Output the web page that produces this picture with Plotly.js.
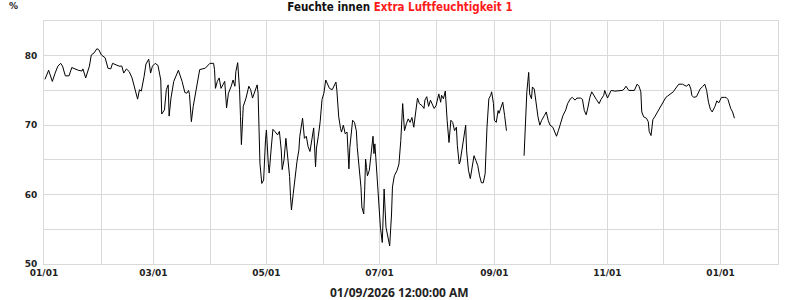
<!DOCTYPE html>
<html>
<head>
<meta charset="utf-8">
<script src="https://cdn.plot.ly/plotly-3.0.1.min.js"></script>
<style>
  html, body { margin: 0; padding: 0; background: #fff; }
  #chart { width: 800px; height: 300px; }
</style>
</head>
<body>
<div id="chart"></div>
<script>
// Days since 2025-01-01 (00:00) and humidity in %
const dayOffsets = [
  0.5, 2.5, 3, 4.5, 6, 7.5, 9, 10, 11.5, 13.5, 15, 16.5, 18.5, 20.5, 21, 22.5, 24.5, 25.5, 27, 28.5,
  29.5, 31, 33, 34.5, 36, 37, 39, 40.5, 42, 43, 44.5, 46, 47.5, 49, 50.5, 51.5, 52.5, 54, 55, 56.5,
  57.5, 58.5, 60, 61.5, 63, 63.5, 65, 66, 67, 67.5, 68.5, 70, 71.5, 72.5, 74.5, 76, 77, 78, 78.5, 79.5,
  80.5, 82, 83, 84, 87, 88.5, 89.5, 91.5, 92, 92.5, 93.5, 94.5, 95.5, 96.5, 97.5, 98.5, 99.5, 101, 102, 103,
  103.5, 104.5, 105.5, 106, 106.5, 107.5, 109, 110.5, 111.5, 112.5, 114, 115, 115.5, 116.5, 117.5, 118.5, 119.5, 120,
  121, 121.5, 122.5, 123.5, 124.5, 126, 127, 128, 128.5, 129.5, 130.5, 131.5, 132.5, 133, 133.5, 134.5, 135.5, 136.5,
  137.5, 138, 139.5, 140.5, 141.5, 142.5, 143.5, 144.5, 145.5, 146.5, 147, 148, 149, 150, 151, 152, 154, 155.5,
  157.5, 158, 159, 160, 160.5, 161.5, 162.5, 163.5, 164, 164.5, 165, 166.5, 167.5, 168.5, 169, 170, 171, 171.5,
  172.5, 173, 173.5, 174, 174.5, 175.5, 176.5, 177.5, 178, 178.5, 179, 180, 180.5, 181.5, 182.5, 183, 183.5, 184.5,
  185.5, 186.5, 187.5, 188, 189, 190.5, 191.5, 192.5, 193.5, 194.5, 195.5, 196.5, 197.5, 198.5, 199.5, 200.5, 201.5, 202.5,
  204, 205, 205.5, 206.5, 207.5, 208.5, 209.5, 210.5, 211.5, 212.5, 213, 214, 214.5, 215.5, 216.5, 217.5, 218.5, 219.5,
  220.5, 221.5, 222.5, 223, 224, 224.5, 225.5, 226.5, 227.5, 228, 229, 230, 231, 232, 233, 234, 235, 236,
  237, 238, 239, 240, 241, 241.5, 242.5, 243, 244, 245, 245.5, 246.5, 247.5, 248.5, 249.5, 254, 259, 259.5,
  260.5, 261.5, 262, 263, 263.5, 264.5, 265.5, 266.5, 267.5, 268.5, 270, 271, 272, 273, 274.5, 275.5, 276.5, 277.5,
  278.5, 280, 281.5, 282.5, 284, 285, 286.5, 287.5, 289.5, 290.5, 291.5, 292.5, 293.5, 294.5, 295.5, 297, 298, 299.5,
  300.5, 302, 302.5, 304, 305, 306, 308, 310, 312, 313, 314, 315.5, 317.5, 318.5, 320, 321, 322, 322.5,
  323.5, 325, 326, 326.5, 327.5, 328.5, 329.5, 331, 332, 333.5, 335.5, 336.5, 338, 339.5, 340.5, 342.5, 344.5, 345.5,
  346.5, 348, 349, 349.5, 350.5, 352, 353, 354, 355.5, 356.5, 357.5, 358.5, 359.5, 360.5, 362, 363, 364, 365.5,
  367, 368, 369, 370.5, 371.5, 372.5
];
const humidity = [
  76.6, 77.9, 77.5, 76.3, 77.5, 78.5, 78.9, 78.5, 77.1, 77.1, 78.3, 78.1, 77.9, 77.8, 78.1, 76.8, 78.5, 80.1, 80.4, 81.0,
  80.9, 80.1, 79.7, 78.2, 78.1, 78.9, 78.7, 78.5, 78.5, 77.5, 78.1, 77.7, 76.8, 75.3, 73.75, 75.1, 74.9, 77.0, 78.8, 79.5,
  77.5, 78.5, 78.9, 78.6, 76.5, 71.6, 72.2, 75.1, 75.8, 71.3, 73.9, 76.3, 77.3, 77.9, 76.3, 74.7, 74.6, 75.0, 74.4, 70.5,
  72.7, 75.1, 77.0, 78.0, 78.2, 78.6, 78.9, 78.9, 78.0, 75.3, 76.3, 76.8, 75.3, 75.8, 76.3, 72.5, 74.6, 75.6, 76.5, 75.6,
  77.7, 79.0, 75.1, 71.25, 67.2, 72.7, 73.9, 75.6, 75.1, 73.9, 75.1, 75.8, 74.6, 64.5, 61.6, 62.1, 67.9, 69.3,
  64.5, 63.1, 66.4, 69.4, 69.1, 68.6, 69.1, 66.4, 63.6, 65.0, 68.1, 65.5, 62.6, 59.7, 57.8, 60.2, 62.8, 64.8,
  66.4, 68.4, 71.0, 68.1, 68.4, 66.9, 66.2, 68.1, 69.6, 64.0, 66.7, 68.4, 70.5, 73.7, 74.6, 76.5, 75.3, 75.1,
  76.2, 75.0, 71.2, 69.5, 69.0, 70.0, 68.75, 69.0, 66.3, 63.7, 66.8, 70.7, 70.4, 69.2, 66.8, 63.9, 61.1, 58.2,
  57.2, 60.6, 65.1, 63.9, 62.7, 63.5, 65.6, 68.4, 65.9, 67.3, 65.4, 61.5, 58.7, 55.3, 53.1, 58.7, 60.8, 55.3,
  54.1, 52.6, 57.2, 61.1, 62.7, 63.5, 64.4, 67.8, 73.1, 69.2, 70.2, 70.9, 70.4, 71.1, 69.7, 71.9, 73.9, 73.1,
  72.8, 72.4, 73.6, 74.1, 72.7, 73.6, 73.1, 72.4, 72.8, 74.1, 74.5, 73.3, 74.3, 73.8, 74.9, 70.7, 67.5, 70.7,
  70.4, 69.2, 69.7, 67.1, 64.4, 64.7, 66.6, 68.75, 70.0, 66.3, 63.5, 62.3, 63.9, 65.6, 64.9, 64.2, 62.7, 61.7,
  61.7, 63.0, 69.7, 73.8, 74.3, 74.8, 73.1, 70.7, 70.4, 72.1, 71.7, 72.6, 73.3, 71.4, 69.2, null, 65.6, 68.3,
  74.8, 77.6, 74.5, 73.8, 75.5, 75.2, 73.1, 71.2, 70.0, 70.7, 71.4, 71.9, 70.7, 70.0, 69.7, 69.0, 68.4, 69.2,
  70.2, 71.4, 72.2, 73.1, 73.8, 74.0, 73.6, 73.9, 73.9, 73.7, 72.1, 71.5, 72.6, 74.0, 74.8, 74.0, 73.7, 73.1,
  73.7, 74.3, 75.0, 73.9, 74.5, 75.0, 74.9, 74.9, 75.0, 75.2, 75.6, 75.0, 75.0, 75.0, 75.9, 75.6, 74.8, 71.9,
  71.2, 71.0, 70.5, 69.1, 68.5, 70.8, 71.2, 71.9, 72.3, 73.1, 74.0, 74.2, 74.5, 74.8, 75.2, 75.9, 75.9, 75.8,
  75.6, 75.9, 75.2, 74.3, 74.0, 74.1, 74.8, 75.2, 75.6, 75.9, 75.0, 73.3, 72.3, 71.9, 72.7, 73.5, 73.2, 74.0,
  74.0, 74.0, 73.7, 72.4, 71.9, 71.0
];
const yTickVals = [50, 60, 70, 80];
const yTickText = ['50', '60', '70', '80'];
const titleMain = 'Feuchte innen';
const titleSensor = 'Extra Luftfeuchtigkeit 1';
const xAxisLabel = '01/09/2026 12:00:00 AM';
const unitLabel = '%';

const baseMs = Date.UTC(2025, 0, 1);
function toDateStr(d) {
  const iso = new Date(baseMs + d * 86400000).toISOString();
  return iso.slice(0, 10) + ' ' + iso.slice(11, 16);
}
const xDates = dayOffsets.map(toDateStr);

const gridCol = '#d9d9d9';
const tickFont = { family: 'DejaVu Sans', size: 9, color: '#222', weight: 'bold' };

const trace = {
  type: 'scatter',
  mode: 'lines',
  x: xDates,
  y: humidity,
  connectgaps: false,
  line: { color: '#000', width: 1 },
  hoverinfo: 'x+y'
};

const layout = {
  width: 800,
  height: 300,
  margin: { l: 44, r: 22, t: 21, b: 36 },
  paper_bgcolor: '#fff',
  plot_bgcolor: '#fff',
  showlegend: false,
  title: {
    text: '<b>' + titleMain + ' <span style="color:#ff1a1a">' + titleSensor + '</span></b>',
    font: { family: 'DejaVu Sans Condensed, Liberation Sans Narrow, sans-serif', size: 11.5, color: '#111' },
    x: 0.5, xanchor: 'center',
    y: 0.99, yanchor: 'top'
  },
  xaxis: {
    type: 'date',
    range: ['2025-01-01', '2026-02-01'],
    tick0: '2025-01-01',
    dtick: 'M2',
    tickformat: '%m/%d',
    ticks: '',
    showgrid: true,
    gridcolor: gridCol,
    gridwidth: 1,
    minor: { dtick: 'M1', showgrid: true, gridcolor: gridCol, gridwidth: 1, ticks: '' },
    showline: true,
    linecolor: gridCol,
    linewidth: 1,
    mirror: true,
    zeroline: false,
    tickfont: tickFont,
    ticklabelstandoff: 0,
    automargin: false
  },
  yaxis: {
    range: [50, 85],
    tickvals: yTickVals,
    ticktext: yTickText,
    ticks: '',
    showgrid: true,
    gridcolor: gridCol,
    gridwidth: 1,
    minor: { dtick: 5, tick0: 50, showgrid: true, gridcolor: gridCol, gridwidth: 1, ticks: '' },
    showline: true,
    linecolor: gridCol,
    linewidth: 1,
    mirror: true,
    zeroline: false,
    tickfont: tickFont,
    ticklabelstandoff: 4,
    automargin: false
  },
  annotations: [
    {
      text: '<b>' + unitLabel + '</b>',
      xref: 'paper', yref: 'paper',
      x: -0.041, y: 1.062,
      xanchor: 'center', yanchor: 'middle',
      showarrow: false,
      font: { family: 'DejaVu Sans', size: 9, color: '#222' }
    },
    {
      text: '<b>' + xAxisLabel + '</b>',
      xref: 'paper', yref: 'paper',
      x: 0.4837, y: -0.116,
      xanchor: 'center', yanchor: 'middle',
      showarrow: false,
      font: { family: 'Open Sans', size: 12, color: '#222' }
    }
  ]
};

Plotly.newPlot('chart', [trace], layout, { displayModeBar: false, staticPlot: true });
</script>
</body>
</html>
